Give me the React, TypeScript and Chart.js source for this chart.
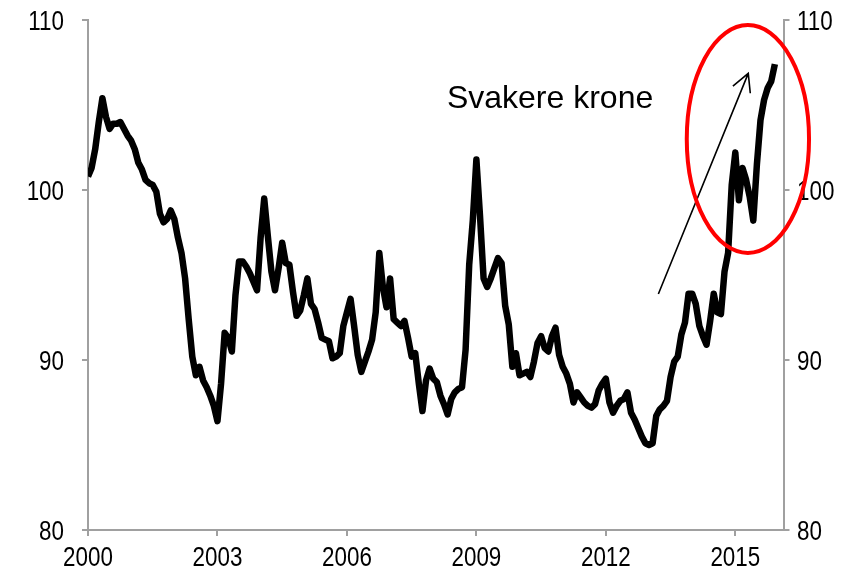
import React, { useEffect, useRef } from "react";
import { Chart, registerables } from "chart.js";

Chart.register(...registerables);

const START_YEAR = 2000;
// Monthly index values, Jan 2000 .. Dec 2015
const VALUES: number[] = [
  100.8, 101.3, 102.4, 104.0, 105.4, 104.3, 103.6, 103.9, 103.9, 104.0, 103.6, 103.2,
  102.9, 102.4, 101.6, 101.2, 100.6, 100.4, 100.3, 99.9, 98.6, 98.1, 98.3, 98.8,
  98.3, 97.2, 96.3, 94.8, 92.4, 90.2, 89.1, 89.6, 88.8, 88.4, 87.9, 87.3,
  86.4, 88.6, 91.6, 91.3, 90.5, 93.8, 95.8, 95.8, 95.5, 95.1, 94.6, 94.1,
  97.2, 99.5, 97.3, 95.2, 94.1, 95.4, 96.9, 95.7, 95.6, 94.0, 92.6, 92.9,
  93.8, 94.8, 93.3, 93.0, 92.2, 91.3, 91.2, 91.1, 90.1, 90.2, 90.4, 92.0,
  92.8, 93.6, 92.0, 90.3, 89.3, 89.9, 90.5, 91.2, 92.8, 96.3, 94.3, 93.1,
  94.8, 92.4, 92.2, 92.0, 92.3, 91.3, 90.2, 90.4, 88.6, 87.0, 88.8, 89.5,
  88.9, 88.7, 87.9, 87.4, 86.8, 87.7, 88.1, 88.3, 88.4, 90.6, 95.6, 98.2,
  101.8, 98.5, 94.8, 94.3, 94.8, 95.4, 96.0, 95.7, 93.2, 92.1, 89.6, 90.4,
  89.1, 89.2, 89.3, 89.0, 89.9, 91.0, 91.4, 90.7, 90.5, 91.4, 91.9, 90.3,
  89.6, 89.2, 88.6, 87.5, 88.1, 87.8, 87.5, 87.3, 87.2, 87.4, 88.2, 88.6,
  88.9, 87.5, 86.9, 87.3, 87.6, 87.7, 88.1, 86.9, 86.5, 86.0, 85.5, 85.1,
  85.0, 85.1, 86.7, 87.1, 87.3, 87.6, 89.0, 89.9, 90.2, 91.5, 92.2, 93.9,
  93.9, 93.3, 92.0, 91.4, 90.9, 92.3, 93.9, 92.8, 92.7, 95.2, 96.3, 100.3,
  102.2, 99.4, 101.3, 100.6, 99.6, 98.2, 101.5, 104.1, 105.3, 106.0, 106.4, 107.4,
];

const X_TICK_YEARS = [2000, 2003, 2006, 2009, 2012, 2015];
const X_MAX_MONTHS = 193.4;
const Y_TICKS = [80, 90, 100, 110];
const Y_MIN = 80;
const Y_MAX = 110;

const ANNOTATION_TEXT = "Svakere krone";
const TEXT_POS = { m: 99.8, v: 104.82 };
const ARROW_FROM = { m: 158.6, v: 93.88 };
const ARROW_TO = { m: 183.6, v: 106.86 };
const ELLIPSE = { m: 183.5, v: 103.0, rm: 17, rv: 6.7 };

const AXIS_COLOR = "#a0a0a0";
const LABEL_FONT = "28px 'Liberation Sans', Arial, sans-serif";
const LABEL_SQUEEZE = 0.8;

function drawLabel(ctx: any, text: string, px: number, py: number, align: "left" | "right" | "center") {
  ctx.save();
  ctx.translate(px, py);
  ctx.scale(LABEL_SQUEEZE, 1);
  ctx.textAlign = align;
  ctx.fillText(text, 0, 0);
  ctx.restore();
}

const tickLabelPlugin = {
  id: "tickLabels",
  afterDraw(chart: any) {
    const { ctx, scales } = chart;
    ctx.save();
    ctx.fillStyle = "#000";
    ctx.font = LABEL_FONT;
    ctx.textBaseline = "alphabetic";
    const capHalf = 10;
    const xs = scales.x;
    xs.ticks.forEach((t: any) => {
      const label = String(START_YEAR + Math.round(t.value / 12));
      drawLabel(ctx, label, xs.getPixelForValue(t.value), xs.top + 36, "center");
    });
    const yl = scales.y;
    yl.ticks.forEach((t: any) => {
      drawLabel(ctx, String(t.value), yl.right - 24, yl.getPixelForValue(t.value) + capHalf, "right");
    });
    const yr = scales.y2;
    yr.ticks.forEach((t: any) => {
      drawLabel(ctx, String(t.value), yr.left + 13.5, yr.getPixelForValue(t.value) + capHalf, "left");
    });
    ctx.restore();
  },
};

const annotationPlugin = {
  id: "annot",
  afterDraw(chart: any) {
    const { ctx, scales } = chart;
    const x = scales.x;
    const y = scales.y;
    ctx.save();
    ctx.fillStyle = "#000";
    ctx.font = "32px 'Liberation Sans', Arial, sans-serif";
    ctx.textBaseline = "alphabetic";
    ctx.textAlign = "left";
    ctx.fillText(ANNOTATION_TEXT, x.getPixelForValue(TEXT_POS.m), y.getPixelForValue(TEXT_POS.v));
    const x0 = x.getPixelForValue(ARROW_FROM.m);
    const y0 = y.getPixelForValue(ARROW_FROM.v);
    const x1 = x.getPixelForValue(ARROW_TO.m);
    const y1 = y.getPixelForValue(ARROW_TO.v);
    ctx.strokeStyle = "#000";
    ctx.lineWidth = 1.6;
    ctx.beginPath();
    ctx.moveTo(x0, y0);
    ctx.lineTo(x1, y1);
    const ang = Math.atan2(y0 - y1, x0 - x1);
    const hl = 20;
    const ha = (28 * Math.PI) / 180;
    ctx.moveTo(x1 + hl * Math.cos(ang + ha), y1 + hl * Math.sin(ang + ha));
    ctx.lineTo(x1, y1);
    ctx.lineTo(x1 + hl * Math.cos(ang - ha), y1 + hl * Math.sin(ang - ha));
    ctx.stroke();
    const cx = x.getPixelForValue(ELLIPSE.m);
    const cy = y.getPixelForValue(ELLIPSE.v);
    const rx = Math.abs(x.getPixelForValue(ELLIPSE.m + ELLIPSE.rm) - cx);
    const ry = Math.abs(y.getPixelForValue(ELLIPSE.v + ELLIPSE.rv) - cy);
    ctx.strokeStyle = "#ff0000";
    ctx.lineWidth = 4;
    ctx.beginPath();
    ctx.ellipse(cx, cy, rx, ry, 0, 0, Math.PI * 2);
    ctx.stroke();
    ctx.restore();
  },
};

export default function App() {
  const ref = useRef<HTMLCanvasElement | null>(null);
  useEffect(() => {
    if (!ref.current) return;
    const data = VALUES.map((v, i) => ({ x: i, y: v }));
    const gridCfg = { drawOnChartArea: false, drawTicks: true, tickLength: 6, color: AXIS_COLOR, lineWidth: 2 };
    const borderCfg = { display: true, color: AXIS_COLOR, width: 2 };
    const chart = new Chart(ref.current, {
      type: "line",
      data: {
        datasets: [
          {
            data,
            borderColor: "#000",
            borderWidth: 6.5,
            pointRadius: 0,
            tension: 0,
            borderJoinStyle: "round",
            fill: false,
            yAxisID: "y",
          },
        ],
      },
      options: {
        animation: false,
        responsive: false,
        parsing: false as any,
        layout: { padding: { top: 20, left: 0, right: 0, bottom: 0 } },
        plugins: { legend: { display: false }, tooltip: { enabled: false } },
        scales: {
          x: {
            type: "linear",
            position: "bottom",
            min: 0,
            max: X_MAX_MONTHS,
            afterBuildTicks: (s: any) => {
              s.ticks = X_TICK_YEARS.map((yr) => ({ value: (yr - START_YEAR) * 12 }));
            },
            afterFit: (s: any) => {
              s.height = 46;
            },
            ticks: { display: false },
            grid: gridCfg,
            border: borderCfg,
          },
          y: {
            type: "linear",
            position: "left",
            min: Y_MIN,
            max: Y_MAX,
            afterBuildTicks: (s: any) => {
              s.ticks = Y_TICKS.map((v) => ({ value: v }));
            },
            afterFit: (s: any) => {
              s.width = 88;
            },
            ticks: { display: false },
            grid: gridCfg,
            border: borderCfg,
          },
          y2: {
            type: "linear",
            position: "right",
            min: Y_MIN,
            max: Y_MAX,
            afterBuildTicks: (s: any) => {
              s.ticks = Y_TICKS.map((v) => ({ value: v }));
            },
            afterFit: (s: any) => {
              s.width = 75.5;
            },
            ticks: { display: false },
            grid: gridCfg,
            border: borderCfg,
          },
        },
      },
      plugins: [tickLabelPlugin, annotationPlugin],
    });
    return () => chart.destroy();
  }, []);
  return (
    <div style={{ position: "absolute", left: 0, top: 0, width: 859, height: 576, background: "#fff" }}>
      <canvas ref={ref} width={859} height={576} style={{ display: "block" }} />
    </div>
  );
}
